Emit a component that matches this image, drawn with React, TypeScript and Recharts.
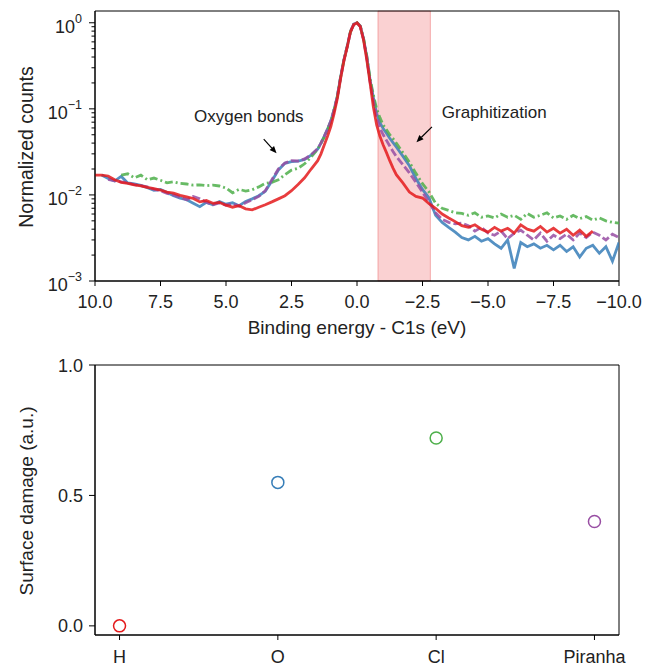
import React from 'react'
import { ComposedChart, Line, XAxis, YAxis, ReferenceArea, ReferenceLine, ReferenceDot, ScatterChart, Scatter } from 'recharts'

// binding energy relative to C1s (eV)
const energy = [
  10, 9.75, 9.5, 9.25, 9, 8.75, 8.5, 8.25, 8, 7.75, 7.5, 7.25, 7, 6.75, 6.5, 6.25, 6, 5.75, 5.5, 5.25, 5, 4.75, 4.5, 4.25, 4, 3.75, 3.5, 3.25, 3, 2.75, 2.5, 2.25, 2, 1.75,
  1.5, 1.375, 1.25, 1.125, 1, 0.875, 0.75, 0.625, 0.5, 0.375, 0.25, 0.125, 0, -0.125, -0.25, -0.375, -0.5, -0.625, -0.75, -0.875, -1, -1.125, -1.25, -1.375, -1.5,
  -1.75, -2, -2.25, -2.5, -2.75, -3, -3.25, -3.5, -3.75, -4, -4.25, -4.5, -4.75, -5, -5.25, -5.5, -5.75, -6, -6.25, -6.5, -6.75, -7, -7.25, -7.5, -7.75, -8, -8.25, -8.5, -8.75, -9, -9.25, -9.5, -9.75, -10,
]

const hydrogen = [
  0.0170, 0.0170, 0.0166, 0.0150, 0.0140, 0.0136, 0.0131, 0.0127, 0.0122, 0.0118, 0.0114, 0.0108, 0.0105, 0.0099, 0.0095, 0.0091, 0.0083, 0.0086, 0.0080, 0.0082, 0.0076, 0.0072, 0.0075, 0.0069, 0.0067, 0.0072, 0.0077, 0.0083, 0.0090, 0.0098, 0.0112, 0.0132, 0.0158, 0.0200,
  0.0250, 0.0300, 0.0380, 0.0480, 0.0620, 0.0880, 0.1320, 0.2250, 0.3600, 0.5200, 0.7800, 0.9500, 1.0, 0.9000, 0.6300, 0.3700, 0.2000, 0.1050, 0.0650, 0.0480, 0.0380, 0.0310, 0.0250, 0.0205, 0.0172,
  0.0138, 0.0108, 0.0096, 0.0092, 0.0079, 0.0070, 0.0060, 0.0054, 0.0049, 0.0044, 0.0042, 0.0045, 0.0040, 0.0037, 0.0042, 0.0038, 0.0041, 0.0036, 0.0045, 0.0040, 0.0038, 0.0043, 0.0037, 0.0041, 0.0036, 0.0040, 0.0034, 0.0039, 0.0033, 0.0038, null, null, null, null,
]

const oxygen = [
  null, 0.0170, 0.0155, 0.0145, 0.0164, 0.0138, 0.0134, 0.0129, 0.0121, 0.0113, 0.0116, 0.0107, 0.0098, 0.0092, 0.0088, 0.0080, 0.0073, 0.0082, 0.0077, 0.0084, 0.0078, 0.0081, 0.0075, 0.0084, 0.0090, 0.0098, 0.0110, 0.0145, 0.0195, 0.0233, 0.0244, 0.0247, 0.0258, 0.0290,
  0.0340, 0.0400, 0.0480, 0.0580, 0.0720, 0.0970, 0.1400, 0.2350, 0.3700, 0.5300, 0.7900, 0.9600, 1.0, 0.9100, 0.6500, 0.4000, 0.2150, 0.1350, 0.0880, 0.0690, 0.0590, 0.0520, 0.0455, 0.0405, 0.0360,
  0.0282, 0.0218, 0.0155, 0.0116, 0.0092, 0.0058, 0.0048, 0.0042, 0.0037, 0.0032, 0.0030, 0.0033, 0.0029, 0.0031, 0.0027, 0.0024, 0.0030, 0.0014, 0.0028, 0.0025, 0.0027, 0.0024, 0.0026, 0.0023, 0.0026, 0.0022, 0.0025, 0.0019, 0.0024, 0.0026, 0.0021, 0.0025, 0.0017, 0.0028,
]

const chlorine = [
  null, null, null, null, 0.0170, 0.0176, 0.0158, 0.0170, 0.0150, 0.0157, 0.0148, 0.0138, 0.0142, 0.0136, 0.0134, 0.0130, 0.0131, 0.0128, 0.0130, 0.0127, 0.0120, 0.0106, 0.0116, 0.0111, 0.0115, 0.0124, 0.0136, 0.0140, 0.0150, 0.0172, 0.0194, 0.0204, 0.0230, 0.0275,
  0.0340, 0.0400, 0.0470, 0.0570, 0.0710, 0.0970, 0.1400, 0.2350, 0.3700, 0.5300, 0.7900, 0.9600, 1.0, 0.9200, 0.6600, 0.4100, 0.2250, 0.1450, 0.1000, 0.0790, 0.0650, 0.0570, 0.0500, 0.0450, 0.0400,
  0.0310, 0.0240, 0.0178, 0.0135, 0.0108, 0.0080, 0.0070, 0.0066, 0.0062, 0.0061, 0.0058, 0.0062, 0.0055, 0.0057, 0.0054, 0.0060, 0.0055, 0.0058, 0.0052, 0.0061, 0.0055, 0.0058, 0.0062, 0.0054, 0.0057, 0.0052, 0.0058, 0.0053, 0.0056, 0.0051, 0.0054, 0.0050, 0.0048, 0.0047,
]

const piranha = [
  null, null, 0.0152, 0.0146, 0.0142, 0.0138, 0.0132, 0.0128, 0.0124, 0.0116, 0.0112, 0.0104, 0.0100, 0.0094, 0.0088, 0.0096, 0.0090, 0.0082, 0.0077, 0.0081, 0.0076, 0.0079, 0.0074, 0.0081, 0.0088, 0.0096, 0.0112, 0.0150, 0.0200, 0.0235, 0.0250, 0.0248, 0.0262, 0.0292,
  0.0345, 0.0400, 0.0480, 0.0580, 0.0720, 0.0970, 0.1400, 0.2350, 0.3700, 0.5300, 0.7900, 0.9600, 1.0, 0.9100, 0.6400, 0.3900, 0.2050, 0.1250, 0.0800, 0.0600, 0.0500, 0.0430, 0.0370, 0.0320, 0.0280,
  0.0225, 0.0180, 0.0140, 0.0108, 0.0082, 0.0062, 0.0052, 0.0048, 0.0046, 0.0047, 0.0044, 0.0038, 0.0042, 0.0036, 0.0034, 0.0038, 0.0031, 0.0036, 0.0039, 0.0034, 0.0030, 0.0036, 0.0029, 0.0034, 0.0031, 0.0035, 0.0030, 0.0036, 0.0032, 0.0037, 0.0034, 0.0030, 0.0035, 0.0032,
]

const xTicks = [10, 7.5, 5, 2.5, 0, -2.5, -5, -7.5, -10]
const yMajor = [0.001, 0.01, 0.1, 1]

const treatments = ['H', 'O', 'Cl', 'Piranha']
const damage = [0, 0.55, 0.72, 0.4]
const damageTicks = [0, 0.5, 1]

const markerColors = ['#e41a1c', '#377eb8', '#4daf4a', '#984ea3']
const FONT = '"Liberation Sans", Arial, Helvetica, sans-serif'
const INK = '#222'

const spectra = energy.map((e, i) => ({ e, h: hydrogen[i], o: oxygen[i], cl: chlorine[i], p: piranha[i] }))
const yMinor: number[] = []
yMajor.slice(0, 3).forEach(d => { for (let m = 2; m <= 9; m++) yMinor.push(+(d * m).toPrecision(3)) })

const points = treatments.map((name, i) => ({ x: i, y: damage[i], name }))

function fmtE(v: number) {
  const s = Math.abs(v).toFixed(1)
  return v < 0 ? '\u2212' + s : s
}

function EnergyTick(props: any) {
  const { x, y, payload } = props
  return (
    <g>
      <line x1={x} x2={x} y1={y} y2={y + 5} stroke="#000" />
      <text x={x} y={y + 27} textAnchor="middle" fontSize={18} fontFamily={FONT} fill={INK}>{fmtE(payload.value)}</text>
    </g>
  )
}

function LogTick(props: any) {
  const { x, y, payload } = props
  const lg = Math.log10(payload.value)
  const exp = Math.round(lg)
  const major = Math.abs(lg - exp) < 1e-6
  return (
    <g>
      <line x1={x} x2={x - (major ? 6 : 3.5)} y1={y} y2={y} stroke="#000" />
      {major && (
        <text x={x - 13} y={y + 10} textAnchor="end" fontSize={18} fontFamily={FONT} fill={INK}>
          10<tspan dy={-10} fontSize={12.5}>{exp === 0 ? '0' : '\u2212' + -exp}</tspan>
        </text>
      )}
    </g>
  )
}

function CatTick(props: any) {
  const { x, y, payload } = props
  return (
    <g>
      <line x1={x} x2={x} y1={y} y2={y + 5} stroke="#000" />
      <text x={x} y={y + 28} textAnchor="middle" fontSize={18} fontFamily={FONT} fill={INK}>{treatments[payload.value]}</text>
    </g>
  )
}

function DamageTick(props: any) {
  const { x, y, payload } = props
  return (
    <g>
      <line x1={x} x2={x - 6} y1={y} y2={y} stroke="#000" />
      <text x={x - 12} y={y + 6.5} textAnchor="end" fontSize={18} fontFamily={FONT} fill={INK}>{payload.value.toFixed(1)}</text>
    </g>
  )
}

function Arrow(props: any) {
  const { x1, y1, x2, y2 } = props
  const a = Math.atan2(y2 - y1, x2 - x1)
  const L = 7, W = 3
  const bx = x2 - L * Math.cos(a)
  const by = y2 - L * Math.sin(a)
  const pts = `${x2},${y2} ${bx + W * Math.sin(a)},${by - W * Math.cos(a)} ${bx - W * Math.sin(a)},${by + W * Math.cos(a)}`
  return (
    <g>
      <line x1={x1} y1={y1} x2={bx} y2={by} stroke="#000" strokeWidth={1.2} />
      <polygon points={pts} fill="#000" />
    </g>
  )
}

const note = (label: string) => (p: any) => (
  <text x={p.cx} y={p.cy + 6} textAnchor="middle" fontSize={17} fontFamily={FONT} fill={INK}>{label}</text>
)

const ring = (p: any) => (
  <circle cx={p.cx} cy={p.cy} r={6} fill="none" stroke={markerColors[p.payload.x]} strokeWidth={1.5} />
)

export default function App() {
  return (
    <div style={{ position: 'absolute', left: 0, top: 0, width: 659, height: 667, background: '#fff', fontFamily: FONT }}>
      <ComposedChart width={659} height={345} data={spectra} margin={{ top: 11, right: 40, bottom: 0, left: 0 }}>
        <ReferenceArea x1={-0.8} x2={-2.8} fill="#e41a1c" fillOpacity={0.2} stroke="#e41a1c" strokeOpacity={0.3} />
        <XAxis dataKey="e" type="number" domain={[-10, 10]} reversed ticks={xTicks} interval={0} allowDataOverflow
          height={64} tickSize={0} tickMargin={0} tickLine={false} axisLine={{ stroke: '#000' }} tick={<EnergyTick />} />
        <YAxis type="number" scale="log" domain={[0.001, 1.37]} ticks={[...yMinor, ...yMajor]} interval={0} allowDataOverflow
          width={95} tickSize={0} tickMargin={0} tickLine={false} axisLine={{ stroke: '#000' }} tick={<LogTick />} />
        <Line dataKey="o" stroke="#377eb8" strokeOpacity={0.85} strokeWidth={2.8} dot={false} isAnimationActive={false} />
        <Line dataKey="cl" stroke="#4daf4a" strokeOpacity={0.85} strokeWidth={2.8} strokeDasharray="8 3 2 3" dot={false} isAnimationActive={false} />
        <Line dataKey="p" stroke="#984ea3" strokeOpacity={0.85} strokeWidth={2.8} strokeDasharray="8 3" dot={false} isAnimationActive={false} />
        <Line dataKey="h" stroke="#e41a1c" strokeOpacity={0.85} strokeWidth={2.8} dot={false} isAnimationActive={false} />
        <ReferenceArea x1={10} x2={-10} y1={0.001} y2={1.37} fill="none" stroke="#000" strokeWidth={1} />
        <ReferenceLine segment={[{ x: 3.56, y: 0.0444 }, { x: 3.07, y: 0.0305 }]} shape={Arrow} />
        <ReferenceLine segment={[{ x: -2.86, y: 0.0618 }, { x: -2.27, y: 0.041 }]} shape={Arrow} />
        <ReferenceDot x={4.13} y={0.0822} r={0} shape={note('Oxygen bonds')} />
        <ReferenceDot x={-5.24} y={0.0916} r={0} shape={note('Graphitization')} />
        <text x={357} y={334} textAnchor="middle" fontSize={19} fontFamily={FONT} fill={INK}>Binding energy - C1s (eV)</text>
        <text transform="translate(33,147) rotate(-90)" textAnchor="middle" fontSize={19.5} fontFamily={FONT} fill={INK}>Normalized counts</text>
      </ComposedChart>
      <div style={{ position: 'absolute', left: 0, top: 345 }}>
        <ScatterChart width={659} height={322} margin={{ top: 20, right: 40, bottom: 0, left: 0 }}>
          <XAxis dataKey="x" type="number" domain={[-0.155, 3.155]} ticks={[0, 1, 2, 3]} interval={0} allowDataOverflow
            height={32} tickSize={0} tickMargin={0} tickLine={false} axisLine={{ stroke: '#000' }} tick={<CatTick />} />
          <YAxis dataKey="y" type="number" domain={[-0.035, 1]} ticks={damageTicks} interval={0} allowDataOverflow
            width={95} tickSize={0} tickMargin={0} tickLine={false} axisLine={{ stroke: '#000' }} tick={<DamageTick />} />
          <ReferenceArea x1={-0.155} x2={3.155} y1={-0.035} y2={1} fill="none" stroke="#000" strokeWidth={1} />
          <Scatter data={points} dataKey="y" shape={ring} isAnimationActive={false} />
          <text transform="translate(33,156) rotate(-90)" textAnchor="middle" fontSize={19} fontFamily={FONT} fill={INK}>Surface damage (a.u.)</text>
        </ScatterChart>
      </div>
    </div>
  )
}
